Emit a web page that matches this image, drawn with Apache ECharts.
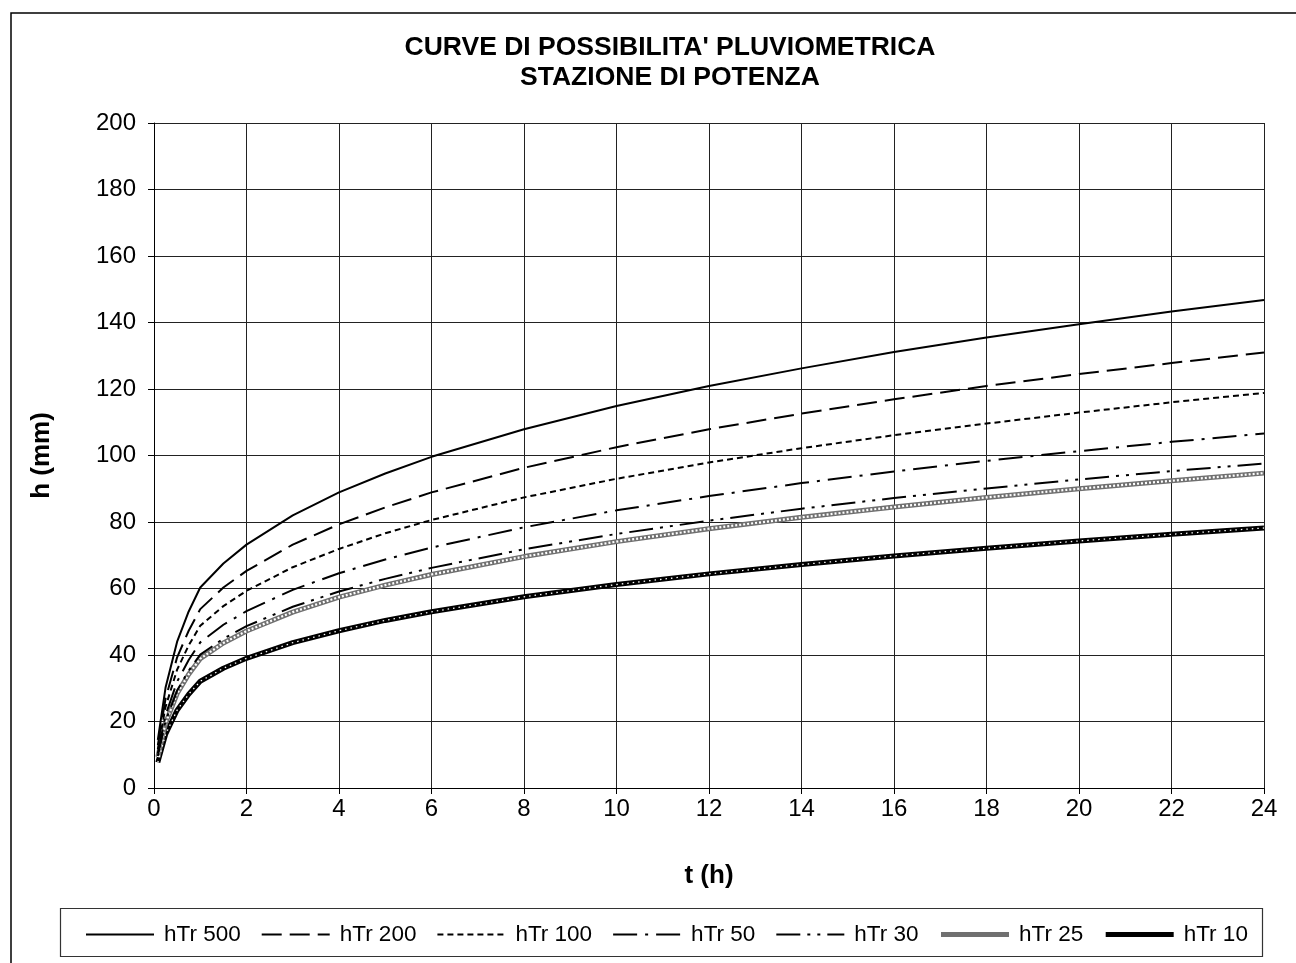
<!DOCTYPE html>
<html>
<head>
<meta charset="utf-8">
<script src="https://cdn.jsdelivr.net/npm/echarts@6/dist/echarts.min.js"></script>
<style>
html,body{margin:0;padding:0;background:#fff;}
#chart{width:1296px;height:963px;}
</style>
</head>
<body>
<div id="chart"></div>
<script>
// durations t (h)
const tValues = [0.083, 0.25, 0.5, 0.75, 1, 1.5, 2, 3, 4, 5, 6, 8, 10, 12, 14, 16, 18, 20, 22, 24];
// h (mm)
const hTr500 = [14.5, 30.2, 44.0, 53.1, 60.3, 67.5, 73.2, 82.0, 88.9, 94.6, 99.6, 107.9, 114.9, 120.9, 126.2, 131.1, 135.5, 139.5, 143.3, 146.8];
const hTr200 = [12.9, 26.9, 39.3, 47.3, 53.8, 60.3, 65.3, 73.2, 79.3, 84.4, 88.9, 96.3, 102.5, 107.9, 112.6, 116.9, 120.9, 124.5, 127.8, 131.0];
const hTr100 = [11.7, 24.4, 35.6, 42.9, 48.8, 54.7, 59.3, 66.4, 71.9, 76.6, 80.6, 87.4, 93.0, 97.9, 102.2, 106.1, 109.6, 112.9, 116.0, 118.8];
const hTr50  = [10.5, 21.9, 32.0, 38.5, 43.8, 49.1, 53.2, 59.6, 64.6, 68.7, 72.3, 78.4, 83.5, 87.8, 91.7, 95.2, 98.4, 101.3, 104.1, 106.6];
const hTr30  = [9.6, 20.1, 29.3, 35.3, 40.1, 44.9, 48.7, 54.5, 59.1, 62.9, 66.2, 71.8, 76.4, 80.4, 84.0, 87.2, 90.1, 92.8, 95.3, 97.6];
const hTr25  = [9.3, 19.5, 28.4, 34.2, 38.9, 43.6, 47.2, 52.9, 57.4, 61.0, 64.2, 69.6, 74.1, 78.0, 81.4, 84.5, 87.4, 90.0, 92.4, 94.7];
const hTr10  = [7.7, 16.1, 23.4, 28.2, 32.1, 36.0, 39.0, 43.7, 47.3, 50.4, 53.0, 57.5, 61.2, 64.4, 67.2, 69.8, 72.1, 74.3, 76.3, 78.2];

const seriesNames = ['hTr 500', 'hTr 200', 'hTr 100', 'hTr 50', 'hTr 30', 'hTr 25', 'hTr 10'];
const titleLines = ["CURVE DI POSSIBILITA' PLUVIOMETRICA", 'STAZIONE DI POTENZA'];
const xName = 't (h)';
const yName = 'h (mm)';

function pts(arr){ return tValues.map((t,i)=>[t, arr[i]]); }

const FONT = '"Liberation Sans", Arial, sans-serif';

function lineSeries(name, arr, ls, extra){
  return Object.assign({
    name: name,
    type: 'line',
    data: pts(arr),
    showSymbol: false,
    symbol: 'none',
    smooth: false,
    lineStyle: ls,
    itemStyle: {color: ls.color},
    emphasis: {disabled: true},
    silent: true,
    animation: false
  }, extra || {});
}

const chart = echarts.init(document.getElementById('chart'), null, {renderer: 'canvas'});

const option = {
  backgroundColor: '#ffffff',
  animation: false,
  textStyle: {fontFamily: FONT},
  grid: {left: 154, right: 32, top: 123, bottom: 175, containLabel: false},
  xAxis: {
    type: 'value', min: 0, max: 24, interval: 2,
    name: xName, nameLocation: 'middle', nameGap: 75,
    nameTextStyle: {fontFamily: FONT, fontSize: 26, fontWeight: 'bold', color: '#000'},
    axisLine: {show: true, onZero: false, lineStyle: {color: '#000', width: 1}},
    axisTick: {show: true, length: 6, lineStyle: {color: '#000'}},
    axisLabel: {fontFamily: FONT, fontSize: 24, color: '#000', margin: 9},
    splitLine: {show: true, lineStyle: {color: '#222', width: 1}}
  },
  yAxis: {
    type: 'value', min: 0, max: 200, interval: 20,
    name: yName, nameLocation: 'middle', nameGap: 99, nameRotate: 90,
    nameTextStyle: {fontFamily: FONT, fontSize: 26, fontWeight: 'bold', color: '#000'},
    axisLine: {show: true, lineStyle: {color: '#000', width: 1}},
    axisTick: {show: true, length: 6, lineStyle: {color: '#000'}},
    axisLabel: {fontFamily: FONT, fontSize: 24, color: '#000', margin: 18},
    splitLine: {show: true, lineStyle: {color: '#222', width: 1}}
  },
  legend: {
    data: seriesNames,
    left: 80,
    top: 918,
    itemWidth: 68,
    itemHeight: 14,
    itemGap: 20,
    itemStyle: {opacity: 0, borderWidth: 0},
    lineStyle: {width: 'inherit'},
    textStyle: {fontFamily: FONT, fontSize: 22.5, color: '#000', padding: [0, 0, 0, 5]},
    selectedMode: false
  },
  graphic: [
    {type: 'rect', shape: {x: 11, y: 13, width: 1310, height: 1000}, style: {fill: 'none', stroke: '#000', lineWidth: 1.5}, silent: true, z: -10},
    {type: 'rect', shape: {x: 60.5, y: 908.5, width: 1202, height: 48}, style: {fill: 'none', stroke: '#333', lineWidth: 1.2}, silent: true, z: -10},
    {type: 'text', x: 670, y: 34, style: {text: titleLines[0], fill: '#000', font: 'bold 26.5px ' + FONT, textAlign: 'center', textVerticalAlign: 'top'}, silent: true},
    {type: 'text', x: 670, y: 64, style: {text: titleLines[1], fill: '#000', font: 'bold 26.5px ' + FONT, textAlign: 'center', textVerticalAlign: 'top'}, silent: true}
  ],
  series: [
    lineSeries('hTr 10', hTr10, {color: '#000', width: 5, type: 'solid'}, {z: 2}),
    lineSeries('hTr 10 dots', hTr10, {color: '#fff', width: 1.3, type: [1.5, 4]}, {z: 3}),
    lineSeries('hTr 25', hTr25, {color: '#707070', width: 5, type: 'solid'}, {z: 2}),
    lineSeries('hTr 25 dots', hTr25, {color: '#fff', width: 2.2, type: [2, 2]}, {z: 3}),
    lineSeries('hTr 30', hTr30, {color: '#000', width: 2, type: [24, 7, 3, 7, 3, 7]}, {z: 4}),
    lineSeries('hTr 50', hTr50, {color: '#000', width: 2, type: [24, 8, 3, 8]}, {z: 4}),
    lineSeries('hTr 100', hTr100, {color: '#000', width: 2, type: [6, 4]}, {z: 4}),
    lineSeries('hTr 200', hTr200, {color: '#000', width: 2, type: [20, 8]}, {z: 4}),
    lineSeries('hTr 500', hTr500, {color: '#000', width: 2, type: 'solid'}, {z: 4})
  ]
};
chart.setOption(option);
</script>
</body>
</html>
